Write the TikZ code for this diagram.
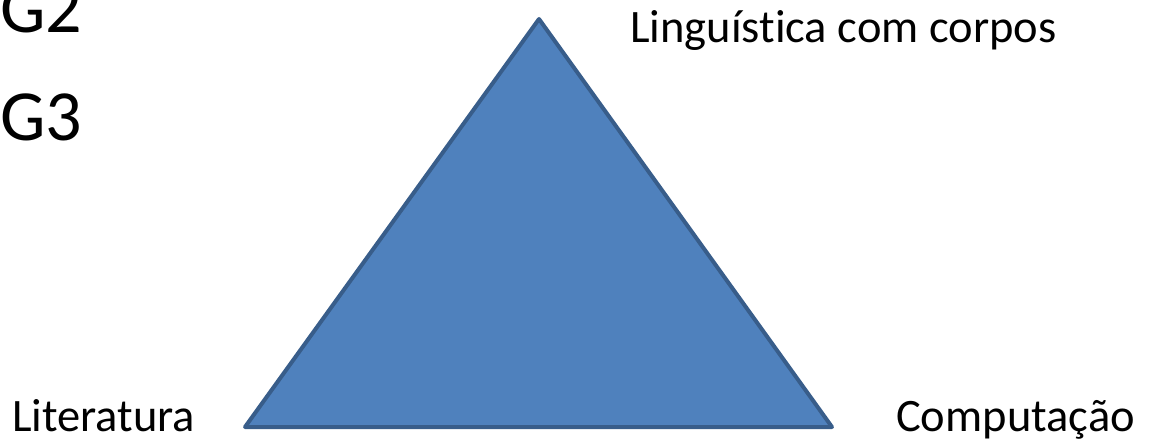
\documentclass[tikz,border=0pt]{standalone}
\usepackage{fontspec}
\setmainfont{Carlito}[Ligatures=NoCommon]
\definecolor{trifill}{HTML}{4F81BD}
\definecolor{triline}{HTML}{385D8A}
\begin{document}
\begin{tikzpicture}[x=1pt,y=-1pt,
  big/.style={font=\fontsize{72}{80}\selectfont, anchor=base west, inner sep=0pt},
  lab/.style={font=\fontsize{46.5}{52}\selectfont, anchor=base west, inner sep=0pt}]
\useasboundingbox (0,0) rectangle (1150,444);
\coordinate (A) at (539,19);
\coordinate (B) at (245,427);
\coordinate (C) at (832,427);
\filldraw[fill=trifill, draw=triline, line width=4pt, line join=round] (A) -- (B) -- (C) -- cycle;
\node[big] (g2) at (0,33) {G2};
\node[big] (g3) at (0,140) {G3};
\node[lab] (ling) at (630,43) {Linguística com corpos};
\node[lab] (lit) at (12,431) {Literatura};
\node[lab] (comp) at (896,431) {Computação};
\end{tikzpicture}
\end{document}
